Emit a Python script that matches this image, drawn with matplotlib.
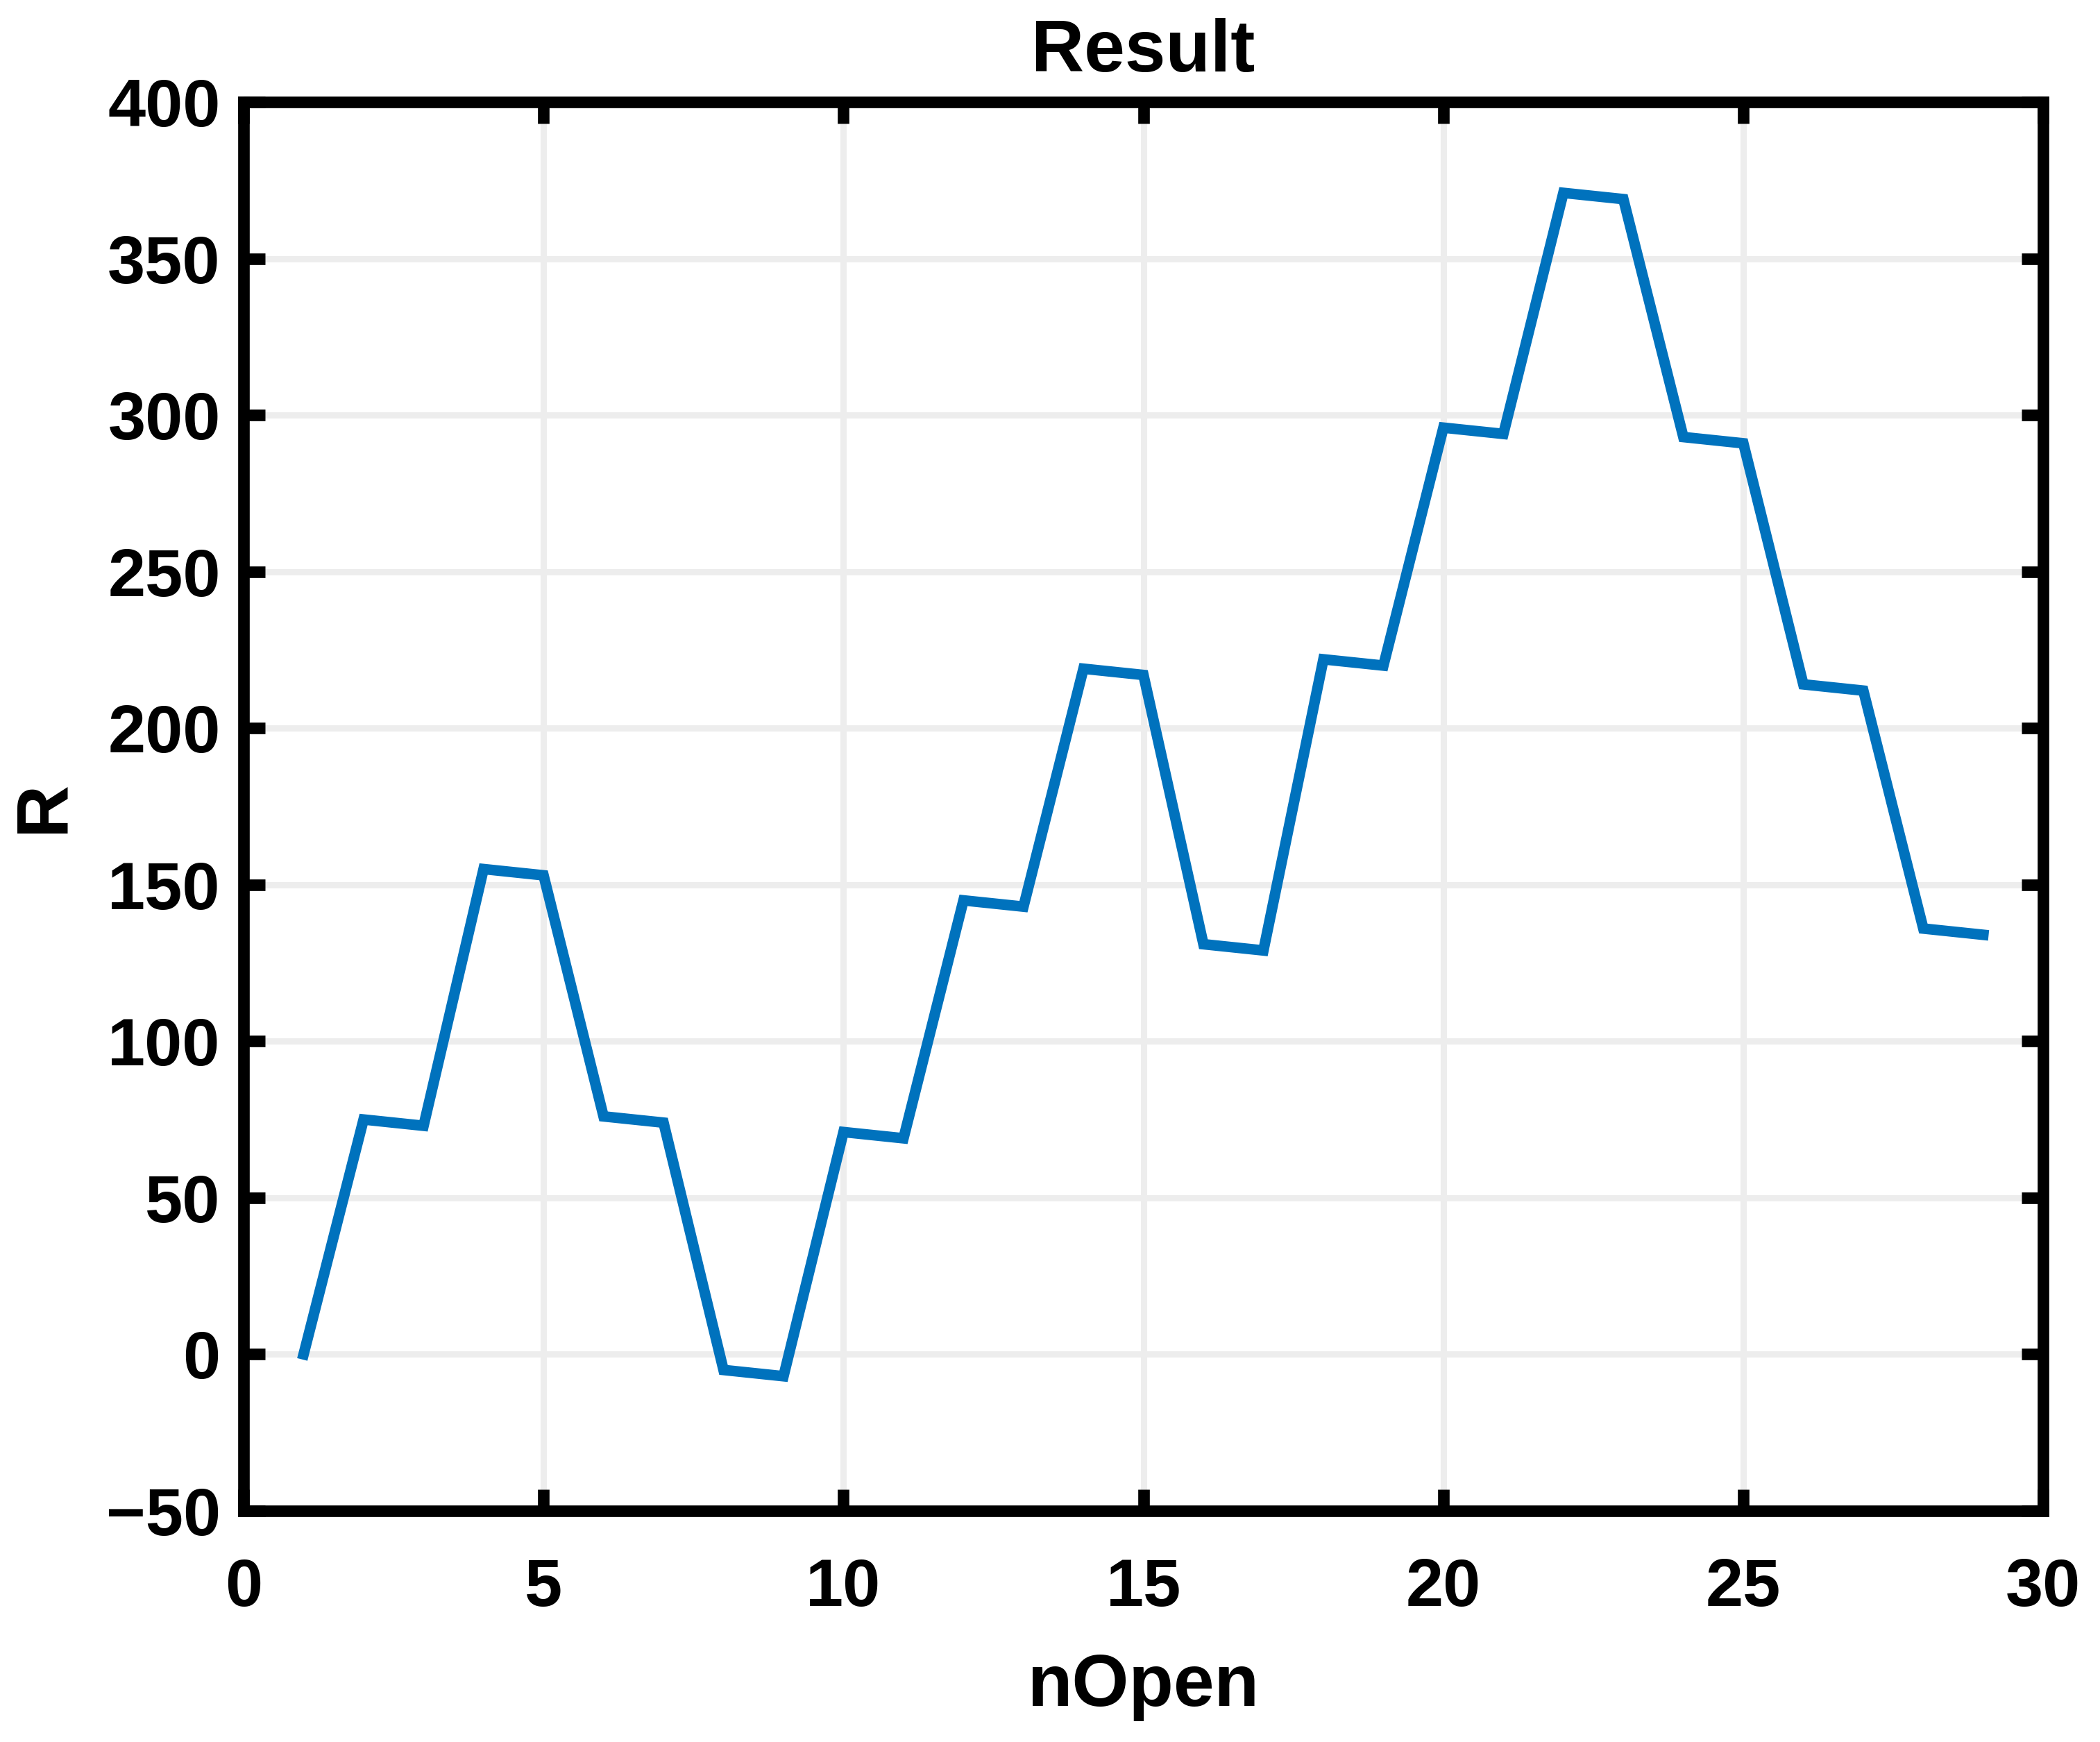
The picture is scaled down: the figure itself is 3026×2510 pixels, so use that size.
import matplotlib.pyplot as plt

# data
n_open = list(range(1, 30))
r_values = [0, 75, 73, 155, 153, 76, 74, -5, -7, 71, 69, 145, 143, 219, 217,
            131, 129, 222, 220, 296, 294, 371, 369, 293, 291, 214, 212, 136, 134]
x_ticks = [0, 5, 10, 15, 20, 25, 30]
y_ticks = [-50, 0, 50, 100, 150, 200, 250, 300, 350, 400]

plt.rcParams["font.family"] = ["Liberation Sans", "DejaVu Sans"]
plt.rcParams["font.weight"] = "bold"

fig = plt.figure(figsize=(30.26, 25.10), dpi=100)
ax = fig.add_axes([0.1160, 0.1327, 0.8570, 0.8087])

ax.plot(n_open, r_values, color="#0072BD", linewidth=11, solid_joinstyle="miter", zorder=3)

ax.set_xlim(0, 30)
ax.set_ylim(-50, 400)
ax.set_xticks(x_ticks)
ax.set_yticks(y_ticks)
ax.set_yticklabels([str(v).replace("-", "\u2212") for v in y_ticks])

ax.grid(True, color="#ededed", linewidth=6.5, zorder=0)
ax.set_axisbelow(True)

for spine in ax.spines.values():
    spine.set_linewidth(12)
    spine.set_color("black")

ax.tick_params(direction="in", length=22, width=12, top=True, right=True,
               labelsize=70, colors="black")
ax.tick_params(axis="x", pad=48)
ax.tick_params(axis="y", pad=24)

ax.set_title("Result", fontsize=76, fontweight="bold", pad=32)
ax.set_xlabel("nOpen", fontsize=76, fontweight="bold", labelpad=34)
ax.set_ylabel("R", fontsize=76, fontweight="bold", labelpad=28)

fig.savefig("out.png", dpi=100)
